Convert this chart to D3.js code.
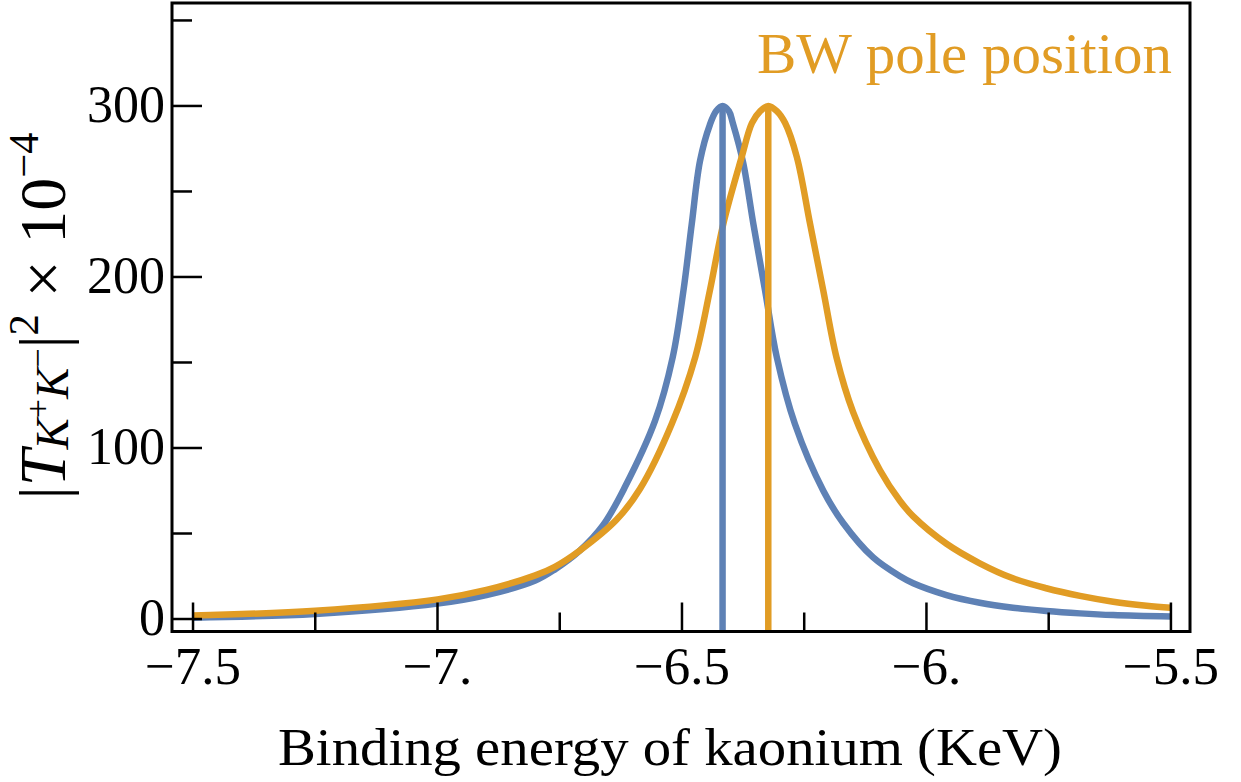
<!DOCTYPE html>
<html>
<head>
<meta charset="utf-8">
<script src="https://cdn.jsdelivr.net/npm/d3@7"></script>
<style>
  body { margin: 0; background: #fff; }
  text { font-family: "Liberation Serif", "DejaVu Serif", serif; fill: #000; }
</style>
</head>
<body>
<div id="chart"></div>
<script>
const blueX = [-7.5, -7.25, -7.0, -6.9, -6.8, -6.76, -6.709, -6.661, -6.617, -6.555, -6.519, -6.497, -6.48, -6.463, -6.443, -6.43, -6.417,
  -6.404, -6.396, -6.375, -6.354, -6.33, -6.306, -6.269, -6.211, -6.17, -6.109, -6.054, -6.027, -5.959, -5.891, -5.823, -5.755, -5.686, -5.618, -5.5]
const blueY = [0.8, 3.0, 9.0, 14.0, 22.5, 29, 40, 55, 77, 116, 153, 192, 231, 268, 289, 297, 300,
  297, 290, 267, 231, 192, 153, 114, 75, 56, 36, 25, 20.9, 14, 9.5, 6.6, 4.7, 3.3, 2.3, 1.4]

const orangeX = [-7.5, -7.25, -7.0, -6.9, -6.8, -6.76, -6.709, -6.634, -6.586, -6.521, -6.473, -6.443, -6.4155, -6.378, -6.357, -6.34, -6.3235,
  -6.306, -6.289, -6.265, -6.238, -6.211, -6.184, -6.15, -6.095, -6.054, -6.027, -5.959, -5.891, -5.823, -5.755, -5.686, -5.618, -5.55, -5.5]
const orangeY = [2.0, 4.9, 11.5, 17, 25.5, 30.5, 40, 58, 76, 114, 153, 192, 231, 270, 290, 297, 300,
  297, 290, 270, 231, 192, 153, 121, 87, 69, 60, 44, 32.6, 23.8, 18, 13.5, 10.1, 7.8, 6.6]

const poleX = [-6.417, -6.3235]
const poleY = [300, 300]

const xMajor = [-7.5, -7, -6.5, -6, -5.5]
const xMajorLabels = ['−7.5', '−7.', '−6.5', '−6.', '−5.5']
const xMinor = [-7.25, -6.75, -6.25, -5.75]
const yMajor = [0, 100, 200, 300]
const yMajorLabels = ['0', '100', '200', '300']
const yMinor = [50, 150, 250, 350]

const blue = '#5E81B5'
const orange = '#E19C24'

const width = 1241
const height = 782
const plotLeft = 172, plotRight = 1190, plotTop = 3, plotBottom = 631.5

const svg = d3.select('#chart')
  .append('svg')
  .attr('width', width)
  .attr('height', height)

const x = d3.scaleLinear().domain([-7.543, -5.461]).range([plotLeft, plotRight])
const y = d3.scaleLinear().domain([-7.3, 360.2]).range([plotBottom, plotTop])

svg.append('clipPath')
  .attr('id', 'plot')
  .append('rect')
  .attr('x', plotLeft).attr('y', plotTop)
  .attr('width', plotRight - plotLeft).attr('height', plotBottom - plotTop)

const line = d3.line()
  .x(d => x(d[0]))
  .y(d => y(d[1]))
  .curve(d3.curveCatmullRom.alpha(0.5))

const plot = svg.append('g').attr('clip-path', 'url(#plot)')

plot.append('path')
  .datum(d3.zip(blueX, blueY))
  .attr('d', line)
  .attr('fill', 'none')
  .attr('stroke', blue)
  .attr('stroke-width', 6.5)

plot.append('path')
  .datum(d3.zip(orangeX, orangeY))
  .attr('d', line)
  .attr('fill', 'none')
  .attr('stroke', orange)
  .attr('stroke-width', 6.5)

plot.selectAll('.pole')
  .data(d3.zip(poleX, poleY, [blue, orange]))
  .enter()
  .append('line')
  .attr('class', 'pole')
  .attr('x1', d => x(d[0]))
  .attr('x2', d => x(d[0]))
  .attr('y1', y.range()[0])
  .attr('y2', d => y(d[1]))
  .attr('stroke', d => d[2])
  .attr('stroke-width', 6.5)

// ticks point inward from the bottom and left frame edges
const ticks = svg.append('g').attr('stroke', '#000').attr('stroke-width', 2.5)

ticks.selectAll('.xt')
  .data(xMajor.map(v => [v, 29]).concat(xMinor.map(v => [v, 19])))
  .enter()
  .append('line')
  .attr('x1', d => x(d[0])).attr('x2', d => x(d[0]))
  .attr('y1', plotBottom).attr('y2', d => plotBottom - d[1])

ticks.selectAll('.yt')
  .data(yMajor.map(v => [v, 30]).concat(yMinor.map(v => [v, 20])))
  .enter()
  .append('line')
  .attr('y1', d => y(d[0])).attr('y2', d => y(d[0]))
  .attr('x1', plotLeft).attr('x2', d => plotLeft + d[1])

svg.append('rect')
  .attr('x', plotLeft).attr('y', plotTop)
  .attr('width', plotRight - plotLeft).attr('height', plotBottom - plotTop)
  .attr('fill', 'none')
  .attr('stroke', '#000')
  .attr('stroke-width', 3)

svg.selectAll('.xl')
  .data(xMajor)
  .enter()
  .append('text')
  .attr('x', d => x(d))
  .attr('y', 684)
  .attr('text-anchor', 'middle')
  .attr('font-size', 53)
  .text((d, i) => xMajorLabels[i])

svg.selectAll('.yl')
  .data(yMajor)
  .enter()
  .append('text')
  .attr('x', 165)
  .attr('y', d => y(d) + 16)
  .attr('text-anchor', 'end')
  .attr('font-size', 52)
  .text((d, i) => yMajorLabels[i])

svg.append('text')
  .attr('x', (278 + 1062) / 2)
  .attr('y', 765)
  .attr('text-anchor', 'middle')
  .attr('font-size', 53)
  .attr('textLength', 784)
  .attr('lengthAdjust', 'spacingAndGlyphs')
  .text('Binding energy of kaonium (KeV)')

svg.append('text')
  .attr('x', 1172)
  .attr('y', 73)
  .attr('text-anchor', 'end')
  .attr('font-size', 57)
  .attr('textLength', 415)
  .attr('lengthAdjust', 'spacingAndGlyphs')
  .style('fill', orange)
  .text('BW pole position')

// y label: |T_{K+K-}|^2 x 10^-4, b = shift up from the baseline
const yParts = [
  { t: '|', s: 62, it: false, b: 0 },
  { t: 'T', s: 62, it: true, b: 0 },
  { t: 'K', s: 44, it: true, b: -3 },
  { t: '+', s: 32, it: false, b: 15 },
  { t: 'K', s: 44, it: true, b: -3 },
  { t: '−', s: 32, it: false, b: 15 },
  { t: '|', s: 62, it: false, b: 0 },
  { t: '2', s: 40, it: false, b: 25 },
  { t: ' × 10', s: 62, it: false, b: 0 },
  { t: '−4', s: 40, it: false, b: 25 }
]

const yLabel = svg.append('text')
  .attr('transform', 'translate(65,316) rotate(-90)')
  .attr('text-anchor', 'middle')

let prevShift = 0
yParts.forEach(p => {
  yLabel.append('tspan')
    .attr('font-size', p.s)
    .attr('font-style', p.it ? 'italic' : 'normal')
    .attr('dy', prevShift - p.b)
    .text(p.t)
  prevShift = p.b
})

// fit the label to the span it covers in the reference
const labelLength = yLabel.node().getComputedTextLength()
const k = 367 / labelLength
yLabel.selectAll('tspan')
  .attr('font-size', (d, i) => yParts[i].s * k)
  .attr('dy', (d, i) => ((i ? yParts[i - 1].b : 0) - yParts[i].b) * k)
</script>
</body>
</html>
